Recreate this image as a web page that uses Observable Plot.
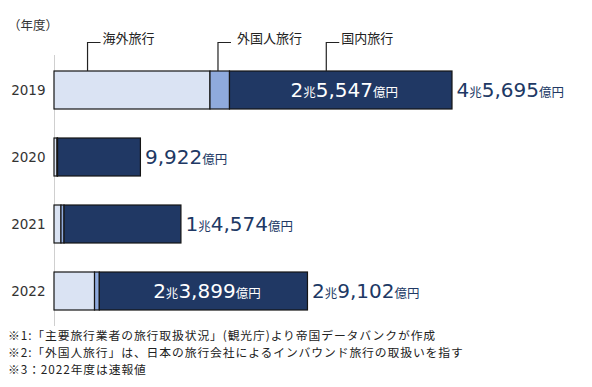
<!DOCTYPE html>
<html><head><meta charset="utf-8">
<script src="https://cdn.jsdelivr.net/npm/d3@7"></script>
<script src="https://cdn.jsdelivr.net/npm/@observablehq/plot@0.6"></script>
<style>
body{margin:0;background:#fff;font-family:"Noto Sans CJK JP","Noto Sans",sans-serif;}
#wrap{position:relative;width:592px;height:387px;}
#unit{position:absolute;left:8px;top:15px;font-size:12.5px;color:#333;}
#chart{position:absolute;left:0;top:0;}
.note{position:absolute;left:8px;font-size:11.8px;letter-spacing:0.9px;line-height:17px;height:17px;color:#222;white-space:nowrap;}
</style></head>
<body><div id="wrap"><div id="chart"></div><div id="unit">（年度）</div>
<div class="note" style="top:326px">※1:「主要旅行業者の旅行取扱状況」(観光庁)より帝国データバンクが作成</div>
<div class="note" style="top:343px">※2:「外国人旅行」は、日本の旅行会社によるインバウンド旅行の取扱いを指す</div>
<div class="note" style="top:360px">※3：2022年度は速報値</div></div>
<script>
const years = ["2019","2020","2021","2022"];
const segments = ["海外旅行","外国人旅行","国内旅行"];
const overseas = [17910, 350, 800, 4653];
const inbound = [2238, 60, 350, 550];
const domestic = [25547, 9512, 13424, 23899];
const totals = [45695, 9922, 14574, 29102];
const insideLabels = ["2兆5,547億円", "", "", "2兆3,899億円"];
const totalLabels = ["4兆5,695億円", "9,922億円", "1兆4,574億円", "2兆9,102億円"];
const colors = ["#dae3f3", "#8faadc", "#203864"];

const series = [overseas, inbound, domestic];
const rows = [];
years.forEach((y, i) => segments.forEach((s, j) => rows.push({year: y, seg: s, value: series[j][i]})));
const dom = years.map((y, i) => ({year: y, x1: overseas[i] + inbound[i], x2: totals[i], label: insideLabels[i]}));
const tot = years.map((y, i) => ({year: y, total: totals[i], label: totalLabels[i]}));

const plot = Plot.plot({
  width: 592, height: 326,
  marginLeft: 54, marginRight: 140, marginTop: 55, marginBottom: 0,
  style: {fontFamily: '"Noto Sans CJK JP","Noto Sans",sans-serif', fontSize: "13px", color: "#333", background: "transparent"},
  x: {domain: [0, 45695], axis: null},
  y: {domain: years, paddingInner: 0.44, paddingOuter: 0.22, label: null, tickSize: 0, tickPadding: 9},
  color: {domain: segments, range: colors},
  marks: [
    Plot.ruleX([0], {stroke: "#cfcfcf", strokeWidth: 1}),
    Plot.barX(rows, Plot.stackX({y: "year", x: "value", fill: "seg", order: segments, stroke: "#151515", strokeWidth: 1.2})),
    Plot.text(dom.filter(d => d.label), {y: "year", x: d => (d.x1 + d.x2) / 2, text: "label", fill: "white", fontSize: 20, dx: 3}),
    Plot.text(tot, {y: "year", x: "total", text: "label", textAnchor: "start", dx: 4, fill: "#203864", fontSize: 20})
  ]
});
document.getElementById("chart").appendChild(plot);

// y tick labels in a Verdana-like face
d3.select(plot).selectAll("text").filter(function() { return years.includes(this.textContent); })
  .attr("font-family", '"DejaVu Sans",sans-serif').attr("font-size", 13.5).attr("fill", "#333");

// mixed-size money labels
d3.select(plot).selectAll("text").each(function() {
  const t = this.textContent;
  if (!/億円$/.test(t)) return;
  const el = d3.select(this);
  const big = +el.attr("font-size") || 20;
  el.text(null);
  const parts = t.match(/[\d,]+|[^\d,]+/g);
  parts.forEach(p => {
    const sp = el.append("tspan").text(p);
    if (!/^[\d,]+$/.test(p)) sp.attr("font-size", 12.5);
    else sp.attr("font-size", big).attr("font-family", '"DejaVu Sans",sans-serif');
  });
});

// leader lines using the plot's scales
const xs = plot.scale("x"), ys = plot.scale("y");
const barTop = ys.apply("2019");
const starts = [0, overseas[0], overseas[0] + inbound[0]];
const fr = [0.215, 0.41, 0.435];
const g = d3.select(plot).append("g").attr("text-anchor", "start");
segments.forEach((s, j) => {
  const v = starts[j] + series[j][0] * fr[j];
  const px = xs.apply(v);
  const ly = barTop - 28.5;
  g.append("path").attr("d", `M${px},${barTop}V${ly}H${px + 13}`).attr("fill", "none").attr("stroke", "#222").attr("stroke-width", 1.2);
  g.append("text").attr("x", px + (j === 1 ? 19 : 15)).attr("y", ly - 4).attr("dy", "0.35em").attr("font-size", 13).attr("fill", "#222").text(s);
});
</script></body></html>
